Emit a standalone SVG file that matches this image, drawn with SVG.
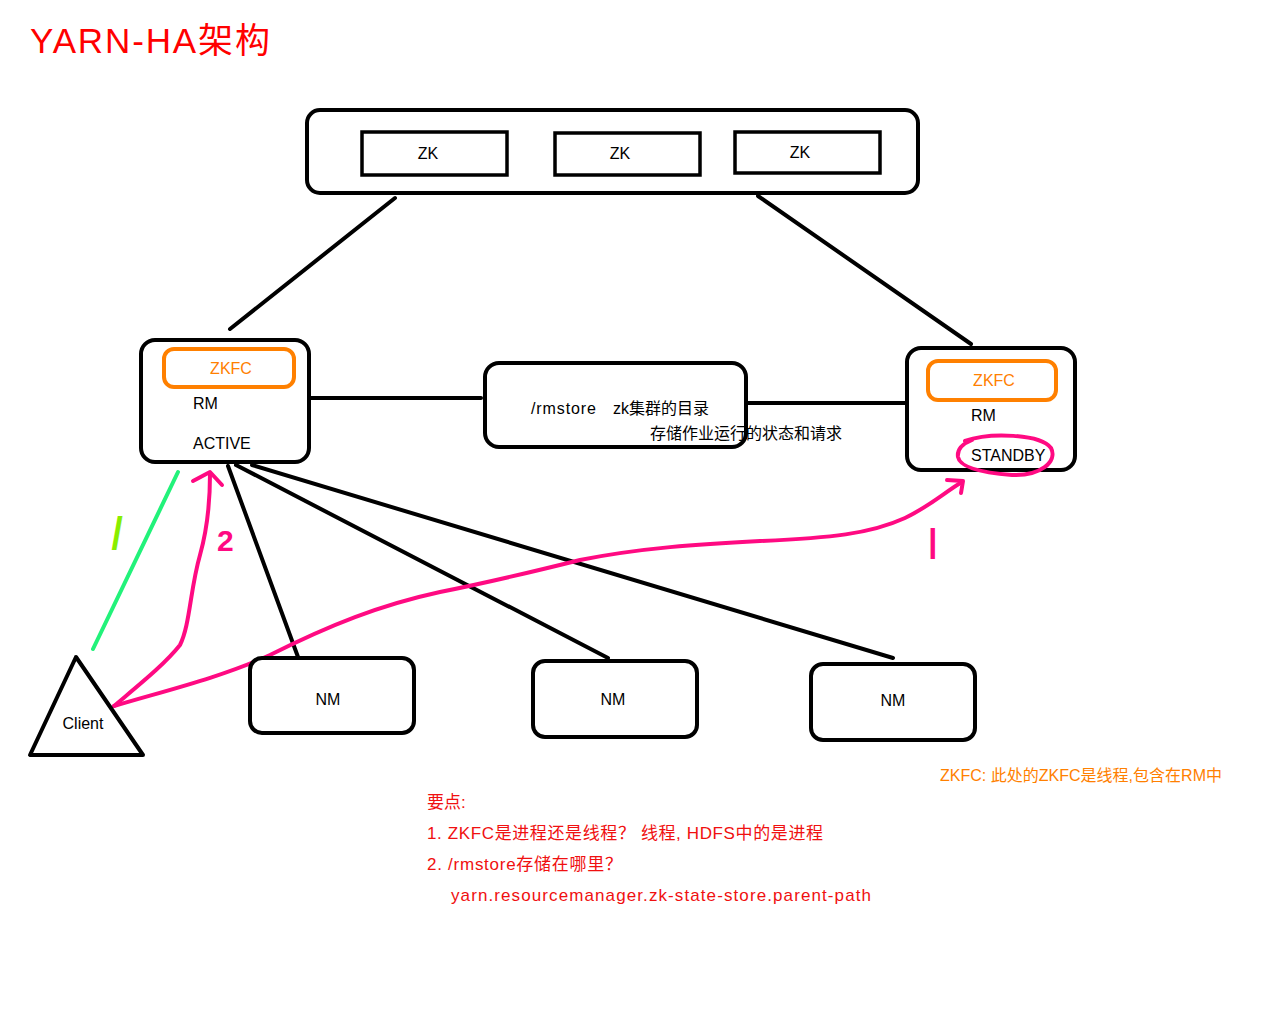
<svg xmlns="http://www.w3.org/2000/svg" width="1280" height="1024" viewBox="0 0 1280 1024">
<defs>
<style>
text{font-family:"Liberation Sans","Noto Sans CJK SC",sans-serif;}
.box{fill:#fff;stroke:#000;stroke-width:4;}
.zk{fill:#fff;stroke:#000;stroke-width:3.5;}
.zkfc{fill:none;stroke:#ff8000;stroke-width:4;}
.line{stroke:#000;stroke-width:4;stroke-linecap:round;fill:none;}
.pink{stroke:#ff0a82;stroke-width:4;stroke-linecap:round;stroke-linejoin:round;fill:none;}
.lbl{font-size:16px;fill:#000;}
.c{text-anchor:middle;}
.orange{font-size:16px;fill:#ff8000;}
.note{font-size:17px;fill:#f01010;}
</style>
</defs>
<rect width="1280" height="1024" fill="#fff"/>
<text x="30" y="53" textLength="240" lengthAdjust="spacing" style="font-size:35px;fill:#ff0000">YARN-HA架构</text>

<g id="connectors">
<line class="line" x1="395" y1="198" x2="230" y2="329"/>
<line class="line" x1="758" y1="196" x2="971" y2="344"/>
<line class="line" x1="309" y1="398" x2="481" y2="398"/>
<line class="line" x1="746" y1="403" x2="907" y2="403"/>
<line class="line" x1="228" y1="466" x2="298" y2="657"/>
<line class="line" x1="236" y1="465" x2="608" y2="658"/>
<line class="line" x1="252" y1="465" x2="893" y2="658"/>
<line x1="178" y1="472" x2="93" y2="649" stroke="#22f27a" stroke-width="4" stroke-linecap="round"/>
<path class="pink" d="M114,706 C140,684 165,664 180,645 C190,625 190,590 200,555 C207,530 210,505 210,474"/>
<path class="pink" d="M193,481 L210,472 L222,485"/>
<path class="pink" d="M114,706 C160,692 220,678 270,655 C330,625 380,605 440,592 C500,580 540,570 580,560 C640,548 700,544 760,541 C830,538 870,534 905,518 C930,506 945,492 962,482"/>
<path class="pink" d="M947,480 L963,481 L961,493"/>
</g>

<g id="zk-cluster">
<rect class="box" x="307" y="110" width="611" height="83" rx="13"/>
</g>
<g id="zk1"><rect class="zk" x="362" y="132" width="145" height="43"/><text class="lbl c" x="428" y="159">ZK</text></g>
<g id="zk2"><rect class="zk" x="555" y="133" width="145" height="42"/><text class="lbl c" x="620" y="159">ZK</text></g>
<g id="zk3"><rect class="zk" x="735" y="132" width="145" height="41"/><text class="lbl c" x="800" y="158">ZK</text></g>

<g id="rm-active">
<rect class="box" x="141" y="340" width="168" height="122" rx="14"/>
<rect class="zkfc" x="164" y="349" width="130" height="38" rx="10"/>
<text class="orange c" x="231" y="374">ZKFC</text>
<text class="lbl" x="193" y="409">RM</text>
<text class="lbl" x="193" y="449">ACTIVE</text>
</g>

<g id="rmstore">
<rect class="box" x="485" y="363" width="261" height="84" rx="14"/>
<text class="lbl" x="531" y="414" textLength="65" lengthAdjust="spacing">/rmstore</text>
<text class="lbl" x="613" y="414">zk集群的目录</text>
<text class="lbl" x="650" y="439">存储作业运行的状态和请求</text>
</g>

<g id="rm-standby">
<rect class="box" x="907" y="348" width="168" height="122" rx="14"/>
<rect class="zkfc" x="928" y="361" width="128" height="39" rx="10"/>
<text class="orange c" x="994" y="386">ZKFC</text>
<text class="lbl" x="971" y="421">RM</text>
<text class="lbl" x="971" y="461">STANDBY</text>
<path class="pink" d="M965,441 C990,432 1040,434 1051,448 C1058,462 1040,476 1012,475 C985,473 960,468 958,457 C957,450 962,444 972,440"/>
</g>

<g id="nm1"><rect class="box" x="250" y="658" width="164" height="75" rx="12"/><text class="lbl c" x="328" y="705">NM</text></g>
<g id="nm2"><rect class="box" x="533" y="661" width="164" height="76" rx="12"/><text class="lbl c" x="613" y="705">NM</text></g>
<g id="nm3"><rect class="box" x="811" y="664" width="164" height="76" rx="12"/><text class="lbl c" x="893" y="706">NM</text></g>

<g id="client">
<polygon points="76,657 30,755 143,755" fill="#fff" stroke="#000" stroke-width="4" stroke-linejoin="round"/>
<text class="lbl c" x="83" y="729">Client</text>
</g>

<g id="marks">
<text x="110" y="542" style="font-size:36px;font-weight:bold;fill:#88ee00" transform="skewX(-10)" dx="96">|</text>
<text x="217" y="551" style="font-size:30px;font-weight:bold;fill:#ff0a82">2</text>
<text x="928" y="552" style="font-size:34px;font-weight:bold;fill:#ff0a82">|</text>
</g>

<text class="orange" x="940" y="781" textLength="282" lengthAdjust="spacing">ZKFC: 此处的ZKFC是线程,包含在RM中</text>
<text class="note" x="427" y="808">要点:</text>
<text class="note" x="427" y="839" textLength="396" lengthAdjust="spacing">1. ZKFC是进程还是线程？ 线程, HDFS中的是进程</text>
<text class="note" x="427" y="870" textLength="195" lengthAdjust="spacing">2. /rmstore存储在哪里？</text>
<text class="note" x="451" y="901" textLength="420" lengthAdjust="spacing">yarn.resourcemanager.zk-state-store.parent-path</text>
</svg>
